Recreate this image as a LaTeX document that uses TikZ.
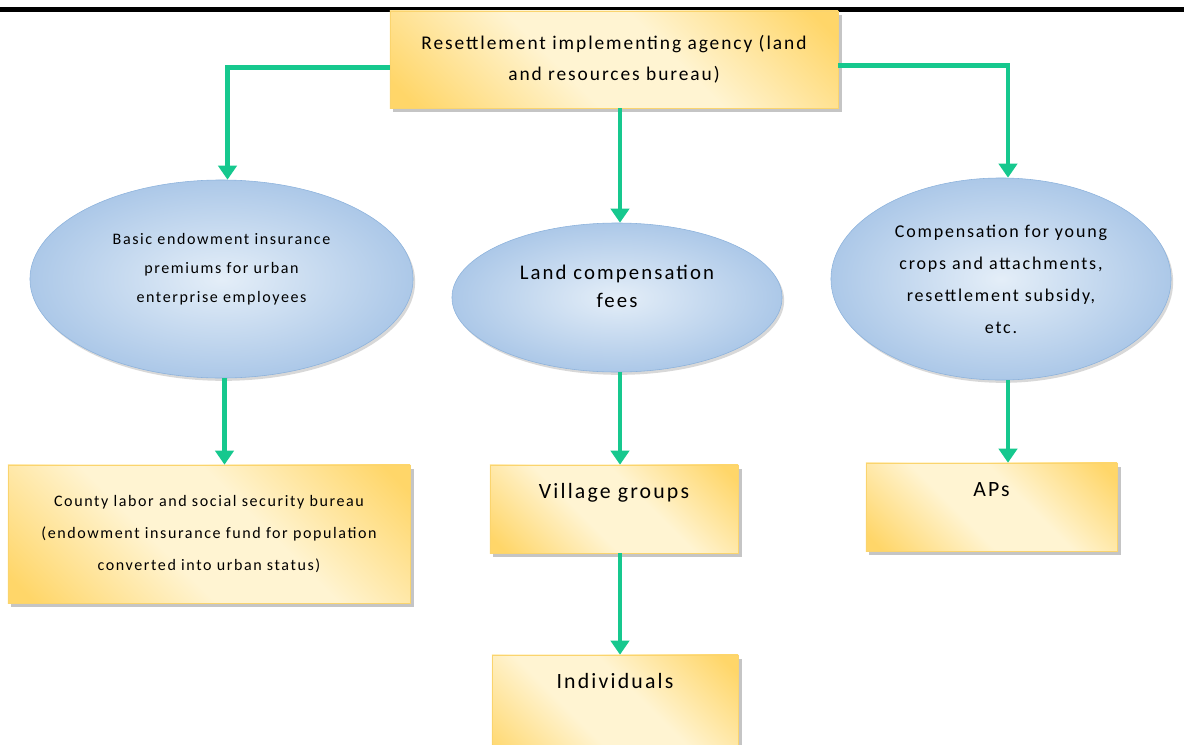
\documentclass[tikz,border=0pt]{standalone}
\usepackage{fontspec}
\setmainfont{Carlito}[LetterSpace=10]
\usetikzlibrary{shapes.geometric,arrows.meta,shadows}
\definecolor{boxlight}{RGB}{255,244,210}
\definecolor{boxdark}{RGB}{255,214,105}
\definecolor{boxline}{RGB}{250,212,110}
\definecolor{ovallight}{RGB}{228,238,248}
\definecolor{ovaldark}{RGB}{172,200,232}
\definecolor{ovalline}{RGB}{140,178,220}
\definecolor{flowgreen}{RGB}{22,200,142}
\pgfdeclarehorizontalshading{goldband}{100bp}{color(0bp)=(boxdark); color(18bp)=(boxdark); color(42bp)=(boxlight); color(58bp)=(boxlight); color(82bp)=(boxdark); color(100bp)=(boxdark)}
\begin{document}
\begin{tikzpicture}[x=0.025cm,y=-0.025cm,
  box/.style={rectangle,draw=boxline,shading=goldband,shading angle=45,align=center,
    drop shadow={shadow xshift=2.5pt,shadow yshift=-2.5pt,fill=black!45}},
  oval/.style={ellipse,draw=ovalline,inner color=ovallight,outer color=ovaldark,align=center,inner sep=1pt,
    drop shadow={shadow xshift=1.5pt,shadow yshift=-2pt,fill=black!30}},
  ovaltext/.style={align=center,inner sep=0pt},
  toptext/.style={anchor=north,yshift=-13pt,inner sep=0pt,text height=11pt,font=\fontsize{15.5}{20}\selectfont},
  flow/.style={draw=flowgreen,line width=3.5pt,-{Triangle[width=13pt,length=10pt]}}]
\useasboundingbox (0,0) rectangle (1184,744);
\draw[line width=3pt] (0,9.5) -- (1184,9.5);
\node[box,minimum width=11.2cm,minimum height=2.425cm,font=\fontsize{13.8}{22}\selectfont] (agency) at (614,59.5)
  {Resettlement implementing agency (land\\and resources bureau)};
\node[oval,minimum width=9.575cm,minimum height=4.95cm,
  label={[ovaltext,yshift=0.25cm,font=\fontsize{11.4}{20.5}\selectfont]center:{Basic endowment insurance\\premiums for urban\\enterprise employees}}] (basic) at (221.5,279) {};
\node[oval,minimum width=8.25cm,minimum height=3.725cm,
  label={[ovaltext,yshift=0.28cm,font=\fontsize{14.8}{20.5}\selectfont]center:{Land compensation\\fees}}] (land) at (617,297.5) {};
\node[oval,minimum width=8.5cm,minimum height=5.05cm,font=\fontsize{12.8}{22.8}\selectfont] (comp) at (1001,279)
  {Compensation for young\\crops and attachments,\\resettlement subsidy,\\etc.};
\node[box,minimum width=10.05cm,minimum height=3.45cm,font=\fontsize{11.4}{22.8}\selectfont] (labor) at (209,534)
  {County labor and social security bureau\\(endowment insurance fund for population\\converted into urban status)};
\node[box,minimum width=6.2cm,minimum height=2.2cm,label={[toptext]north:Village groups}] (village) at (614,509) {};
\node[box,minimum width=6.275cm,minimum height=2.2cm,label={[toptext]north:APs}] (aps) at (991.5,507) {};
\node[box,minimum width=6.15cm,minimum height=3cm,label={[toptext]north:Individuals}] (indiv) at (615,715) {};
\draw[flow] ([yshift=-0.2cm]agency.west) -| ([xshift=0.15cm]basic.north);
\draw[flow] ([yshift=-0.15cm]agency.east) -| ([xshift=0.175cm]comp.north);
\draw[flow] ([xshift=0.075cm]land.north |- agency.south) -- ([xshift=0.075cm]land.north);
\draw[flow] ([xshift=0.075cm]basic.south) -- ([xshift=0.075cm]basic.south |- labor.north);
\draw[flow] ([xshift=0.075cm]land.south) -- ([xshift=0.075cm]land.south |- village.north);
\draw[flow] ([xshift=0.175cm]comp.south) -- ([xshift=0.175cm]comp.south |- aps.north);
\draw[flow] ([xshift=0.15cm]village.south) -- ([xshift=0.15cm]village.south |- indiv.north);
\end{tikzpicture}
\end{document}
